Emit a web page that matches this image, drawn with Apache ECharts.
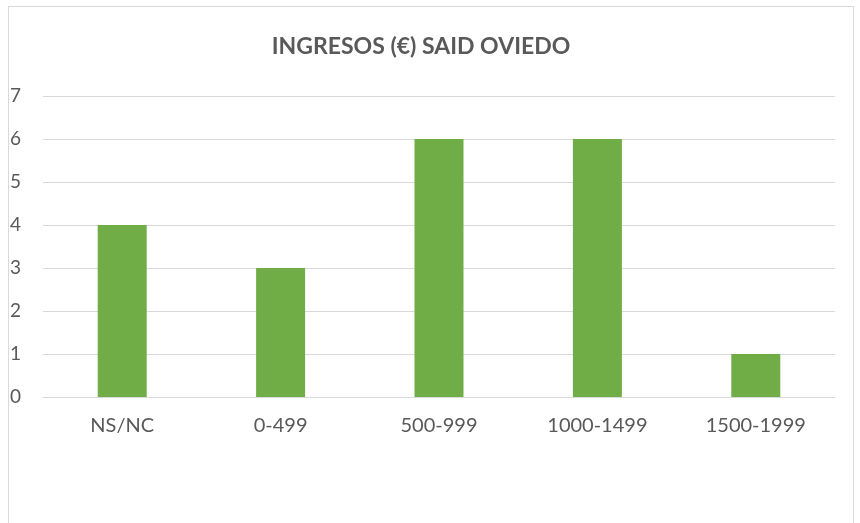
<!DOCTYPE html>
<html>
<head>
<meta charset="utf-8">
<script src="https://cdn.jsdelivr.net/npm/echarts@6/dist/echarts.min.js"></script>
<style>
  html, body { margin: 0; padding: 0; background: #fff; }
  #frame { position: absolute; left: 8px; top: 6px; width: 846px; height: 530px; border: 1px solid #d9d9d9; box-sizing: border-box; }
  #main { position: absolute; left: 0; top: 0; width: 860px; height: 523px; }
</style>
</head>
<body>
<div id="frame"></div>
<div id="main"></div>
<script>
var categories = ['NS/NC', '0-499', '500-999', '1000-1499', '1500-1999'];
var values = [4, 3, 6, 6, 1];

var myChart = echarts.init(document.getElementById('main'));
var option = {
    title: {
        text: 'INGRESOS (€) SAID OVIEDO',
        left: 416,
        textAlign: 'center',
        top: 30,
        textStyle: {
            fontFamily: 'Lato',
            fontWeight: 'bold',
            fontSize: 23,
            color: '#595959'
        }
    },
    grid: {
        left: 43,
        right: 25,
        top: 96,
        bottom: 126
    },
    xAxis: {
        type: 'category',
        data: categories,
        axisLine: { lineStyle: { color: '#d9d9d9' } },
        axisTick: { show: false },
        axisLabel: {
            fontFamily: 'Lato',
            fontSize: 20,
            color: '#595959',
            margin: 19
        }
    },
    yAxis: {
        type: 'value',
        min: 0,
        max: 7,
        interval: 1,
        axisLabel: {
            fontFamily: 'Lato',
            fontSize: 19,
            color: '#595959',
            margin: 22
        },
        splitLine: { lineStyle: { color: '#d9d9d9', width: 1 } }
    },
    series: [
        {
            name: 'Ingresos',
            type: 'bar',
            data: values,
            barWidth: 49,
            itemStyle: { color: '#70ad47' }
        }
    ],
    animation: false
};
myChart.setOption(option);
</script>
</body>
</html>
